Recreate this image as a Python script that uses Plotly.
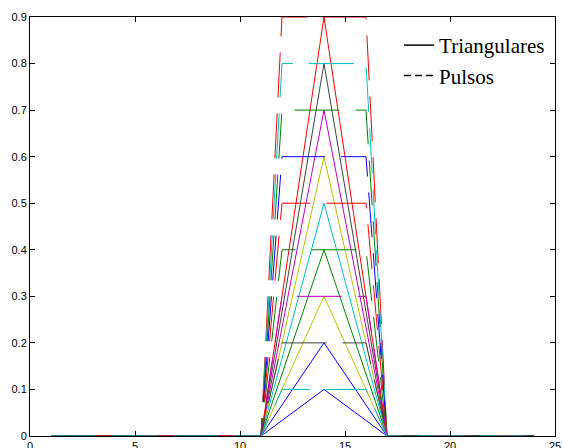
import plotly.graph_objects as go

# Break points
tri_x = [1, 11, 14, 17, 24]          # triangle: start, foot, peak, foot, end
pulse_x = [1, 11, 12, 16, 17, 24]    # pulse: start, foot, top-left, top-right, foot, end

heights = [0.1, 0.2, 0.3, 0.4, 0.5, 0.6, 0.7, 0.8, 0.9]
tri_colors = ["#0000FF", "#0000FF", "#BFBF00", "#008000", "#00BFBF",
              "#BFBF00", "#BF00BF", "#404040", "#FF0000"]
pulse_colors = ["#00BFBF", "#404040", "#BF00BF", "#008000", "#FF0000",
                "#0000FF", "#008000", "#00BFBF", "#FF0000"]

x_ticks = [0, 5, 10, 15, 20, 25]
x_ticktext = ["0", "5", "10", "15", "20", "25"]
y_ticks = [0, 0.1, 0.2, 0.3, 0.4, 0.5, 0.6, 0.7, 0.8, 0.9]
y_ticktext = ["0", "0.1", "0.2", "0.3", "0.4", "0.5", "0.6", "0.7", "0.8", "0.9"]

legend_names = ["Triangulares", "Pulsos"]

fig = go.Figure()

for h, c in zip(heights, tri_colors):
    fig.add_trace(go.Scatter(x=tri_x, y=[0, 0, h, 0, 0], mode="lines",
                             line=dict(color=c, width=1), showlegend=False,
                             hoverinfo="skip"))

for h, c in zip(reversed(heights), reversed(pulse_colors)):
    fig.add_trace(go.Scatter(x=pulse_x, y=[0, 0, h, h, 0, 0], mode="lines",
                             line=dict(color=c, width=1, dash="45px,16px"),
                             showlegend=False, hoverinfo="skip"))

# legend entries
fig.add_trace(go.Scatter(x=[None], y=[None], mode="lines", name=legend_names[0],
                         line=dict(color="black", width=1.5)))
fig.add_trace(go.Scatter(x=[None], y=[None], mode="lines", name=legend_names[1],
                         line=dict(color="black", width=1.5, dash="7px,4px")))

axis_common = dict(showline=True, linecolor="black", linewidth=1, mirror="ticks",
                   ticks="inside", ticklen=5, tickcolor="black", showgrid=False,
                   zeroline=False, layer="above traces", automargin=False,
                   tickfont=dict(family="Liberation Sans", size=11, color="black"))

fig.update_layout(
    width=563, height=448,
    margin=dict(l=30, r=8, t=17, b=12),
    paper_bgcolor="white", plot_bgcolor="white",
    xaxis=dict(range=[0, 25], tickvals=x_ticks, ticktext=x_ticktext, **axis_common),
    yaxis=dict(range=[0, 0.9], tickvals=y_ticks, ticktext=y_ticktext, **axis_common),
    legend=dict(x=0.703, y=0.981, xanchor="left", yanchor="top",
                bgcolor="rgba(0,0,0,0)", borderwidth=0,
                font=dict(family="Liberation Serif", size=21, color="black")),
    showlegend=True,
)

fig.write_html("out.html")
